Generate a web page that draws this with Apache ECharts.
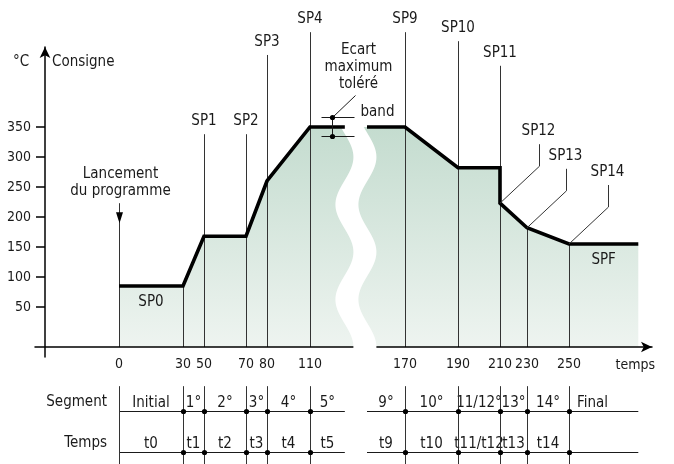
<!DOCTYPE html>
<html>
<head>
    <meta charset="utf-8" />
    <script src="https://cdn.jsdelivr.net/npm/echarts@6.0.0/dist/echarts.min.js"></script>
    <title>Consigne</title>
    <style>
        html, body { margin: 0; padding: 0; background: #fff; }
        #main { width: 674px; height: 464px; }
    </style>
</head>
<body>
    <div id="main"></div>

    <script type="text/javascript">

        // ---- values ----
        var tickTimes = [0, 30, 50, 70, 80, 110, 170, 190, 210, 230, 250];
        var yTicks = [50, 100, 150, 200, 250, 300, 350];

        // setpoint profile, time / °C ('-' = where the drawing breaks the line)
        var profileTimes = [0, 30, 50, 70, 80, 110, 132, '-', 146, 170, 190, 210, 210, 230, 250, 283];
        var profileTemps = [85, 85, 168, 168, 260, 350, 350, '-', 350, 350, 282, 282, 223, 182, 155, 155];
        var breakTimes = [132, 146];

        var spNames = ['SP0', 'SP1', 'SP2', 'SP3', 'SP4', 'SP9', 'SP10', 'SP11', 'SP12', 'SP13', 'SP14', 'SPF'];
        var spTimes = [0, 50, 70, 80, 110, 170, 190, 210, 210, 230, 250, 250];
        var spTemps = [85, 168, 168, 260, 350, 350, 282, 282, 223, 182, 155, 155];

        // tolerance band drawn on SP4
        var bandTime = 124;
        var bandTemps = [334, 366];

        // table under the axis
        var tableRows = ['Segment', 'Temps'];
        var segmentNames = ['Initial', '1°', '2°', '3°', '4°', '5°', '9°', '10°', '11/12°', '13°', '14°', 'Final'];
        var stepNames = ['t0', 't1', 't2', 't3', 't4', 't5', 't9', 't10', 't11/t12', 't13', 't14', ''];
        var cellFrom = [0, 30, 50, 70, 80, 110, 146, 170, 190, 210, 230, 250];
        var cellTo = [30, 50, 70, 80, 110, 132, 170, 190, 210, 230, 250, 283];

        // ---- drawing setup ----
        var FONT = '"DejaVu Sans Condensed", "Liberation Sans Narrow", sans-serif';
        var INK = '#1a1a1a';
        var AXIS_AT = -16.7;   // °C level where the time axis is drawn
        var lastTime = profileTimes[profileTimes.length - 1];

        // the drawing is not to scale: each tick time has its own place on the axis
        var scaleSlots = [0, 64, 85, 127, 148, 191, 286, 339, 381, 408, 450];
        function sx(t) {
            for (var i = 1; i < tickTimes.length; i++) {
                if (t <= tickTimes[i] || i === tickTimes.length - 1) {
                    var a = tickTimes[i - 1], b = tickTimes[i];
                    return scaleSlots[i - 1] + (t - a) * (scaleSlots[i] - scaleSlots[i - 1]) / (b - a);
                }
            }
        }
        function tempAt(t) {
            for (var i = 0; i < profileTimes.length; i++) {
                if (profileTimes[i] === t) return profileTemps[i];
            }
        }
        function crisp(v) { return Math.round(v - 0.5) + 0.5; }

        function txt(x, y, s, size, align, vAlign) {
            return {
                type: 'text', x: x, y: y,
                style: {
                    text: s, fill: INK, fontSize: size || 15, fontFamily: FONT,
                    align: align || 'center', verticalAlign: vAlign || 'middle', lineHeight: 17
                }
            };
        }
        function seg(x1, y1, x2, y2, w, c) {
            return { type: 'line', shape: { x1: x1, y1: y1, x2: x2, y2: y2 }, style: { stroke: c || '#333', lineWidth: w || 1 } };
        }
        function dot(x, y) {
            return { type: 'circle', shape: { cx: x, cy: y, r: 2.6 }, style: { fill: '#000' } };
        }

        var linePoints = profileTimes.map(function (t, i) {
            return t === '-' ? '-' : [sx(t), profileTemps[i]];
        });
        var areaPoints = linePoints.filter(function (p) { return p !== '-'; });

        // where each guide line stops (°C); null = stops on the profile
        var guideTop = [223, null, 338, 338, 470, 508, 508, 493, 452, null, null];
        var spPlace = ['below', 'guide', 'guide', 'guide', 'guide', 'guide', 'guide', 'guide', 'leader', 'leader', 'leader', 'below'];

        function renderGuide(params, api) {
            var i = params.dataIndex, t = tickTimes[i];
            var x = crisp(api.coord([sx(t), 0])[0]);
            var y0 = api.coord([0, AXIS_AT])[1];
            var top = guideTop[i] == null ? tempAt(t) : guideTop[i];
            var y1 = api.coord([0, top])[1];
            var kids = [seg(x, y0, x, y1, 1, '#333')];
            if (i === 0) {
                kids.push({ type: 'polygon', shape: { points: [[x - 3.5, y1 + 9], [x + 3.5, y1 + 9], [x, y1 + 20]] }, style: { fill: '#000' } });
                kids.push(txt(x + 1, y1 - 4, 'Lancement\ndu programme', 15, 'center', 'bottom'));
            }
            return { type: 'group', children: kids };
        }

        function renderSp(params, api) {
            var i = params.dataIndex, t = spTimes[i];
            var p = api.coord([sx(t), spTemps[i]]);
            if (spPlace[i] === 'guide') {
                var top = api.coord([0, guideTop[tickTimes.indexOf(t)]])[1];
                return txt(p[0], top - 13, spNames[i]);
            }
            if (spPlace[i] === 'leader') {
                var lx = crisp(p[0] + 39), ly = p[1] - 37;
                return {
                    type: 'group', children: [
                        { type: 'polyline', shape: { points: [[p[0], p[1]], [lx, ly], [lx, ly - 22]] }, style: { stroke: '#333', lineWidth: 1, fill: null } },
                        txt(lx - 1, ly - 35, spNames[i])
                    ]
                };
            }
            var next = i === 0 ? tickTimes[1] : lastTime;
            var mx = api.coord([sx((t + next) / 2), 0])[0];
            return txt(mx, p[1] + 16, spNames[i]);
        }

        function renderBand(params, api) {
            var x = crisp(api.coord([sx(bandTime), 0])[0]);
            var yHi = crisp(api.coord([0, bandTemps[1]])[1]);
            var yLo = crisp(api.coord([0, bandTemps[0]])[1]);
            return {
                type: 'group', children: [
                    seg(x - 11, yHi, x + 22, yHi, 1, INK),
                    seg(x - 11, yLo, x + 22, yLo, 1, INK),
                    seg(x, yHi, x, yLo, 1, INK),
                    seg(x, yHi, x + 23, yHi - 22, 1, INK),
                    dot(x, yHi), dot(x, yLo),
                    txt(x + 28, yHi - 5, 'band', 15, 'left'),
                    txt(x + 26, yHi - 25, 'Ecart\nmaximum\ntoléré', 15, 'center', 'bottom')
                ]
            };
        }

        function renderBreak(params, api) {
            var cx = api.coord([sx((breakTimes[0] + breakTimes[1]) / 2), 0])[0];
            var yTop = api.coord([0, tempAt(breakTimes[0])])[1] - 1;
            var yAx = api.coord([0, AXIS_AT])[1];
            var left = [], right = [];
            for (var y = yTop; y <= yAx + 3; y += 2) {
                var c = cx + 9 * Math.cos(2 * Math.PI * (yAx - y) / 95);
                left.push([c - 11.5, y]);
                right.unshift([c + 11.5, y]);
            }
            return { type: 'polygon', shape: { points: left.concat(right) }, style: { fill: '#fff' } };
        }

        function renderRow(params, api) {
            var r = params.dataIndex + 1;
            var y = crisp(api.coord([0, r])[1]);
            var x0 = api.coord([sx(0), r])[0];
            return {
                type: 'group', children: [
                    seg(x0, y, api.coord([sx(breakTimes[0]), r])[0], y, 1, INK),
                    seg(api.coord([sx(breakTimes[1]), r])[0], y, api.coord([sx(lastTime), r])[0], y, 1, INK),
                    txt(x0 - 12, y - 9, tableRows[r - 1], 15, 'right')
                ]
            };
        }

        function renderCol(params, api) {
            var i = params.dataIndex;
            var x = crisp(api.coord([sx(tickTimes[i]), 0])[0]);
            var kids = [seg(x, api.coord([0, 0.37])[1], x, api.coord([0, 2.4])[1], 1, '#333')];
            if (i > 0) {
                kids.push(dot(x, crisp(api.coord([0, 1])[1])));
                kids.push(dot(x, crisp(api.coord([0, 2])[1])));
            }
            return { type: 'group', children: kids };
        }

        function renderCell(params, api) {
            var i = params.dataIndex;
            var a = api.coord([sx(cellFrom[i]), 1])[0], b = api.coord([sx(cellTo[i]), 1])[0];
            var last = i === segmentNames.length - 1;
            var x = last ? a + 8 : (a + b) / 2;
            var y1 = api.coord([0, 1])[1], y2 = api.coord([0, 2])[1];
            return {
                type: 'group', children: [
                    txt(x, y1 - 9, segmentNames[i], 15, last ? 'left' : 'center'),
                    txt(x, y2 - 9, stepNames[i], 15, last ? 'left' : 'center')
                ]
            };
        }

        var axisLine = { color: '#000', width: 1.5 };
        var labelText = { color: INK, fontSize: 14, fontFamily: FONT };

        var myChart = echarts.init(document.getElementById('main'));

        myChart.setOption({
            animation: false,
            title: {
                text: '°C', left: 13, top: 55, padding: 0,
                textStyle: { color: INK, fontSize: 15, fontWeight: 'normal', fontFamily: FONT }
            },
            grid: [
                { left: 35, right: 22, top: 47, bottom: 107, outerBoundsMode: 'none' },
                { left: 35, right: 22, top: 371, bottom: 0, outerBoundsMode: 'none' }
            ],
            xAxis: [{
                gridIndex: 0, type: 'value', min: -84, max: 533, offset: -10, z: 3,
                axisLine: { onZero: false, lineStyle: axisLine, symbol: ['none', 'arrow'], symbolSize: [8, 11] },
                axisTick: { show: false },
                splitLine: { show: false },
                axisLabel: {
                    customValues: tickTimes.map(sx), margin: 10, color: INK, fontSize: 14, fontFamily: FONT,
                    formatter: function (v) {
                        var best = 0;
                        for (var i = 1; i < tickTimes.length; i++) {
                            if (Math.abs(sx(tickTimes[i]) - v) < Math.abs(sx(tickTimes[best]) - v)) best = i;
                        }
                        return String(tickTimes[best]);
                    }
                },
                name: 'temps', nameLocation: 'end', nameGap: 3,
                nameTextStyle: { color: INK, fontSize: 14, fontFamily: FONT, align: 'right', verticalAlign: 'top', padding: [11, 0, 0, 0] }
            }, {
                gridIndex: 1, type: 'value', min: -84, max: 533, show: false
            }],
            yAxis: [{
                gridIndex: 0, type: 'value', min: -33.3, max: 483.3, offset: -10,
                axisLine: { show: true, onZero: false, lineStyle: axisLine, symbol: ['none', 'arrow'], symbolSize: [8, 11] },
                axisTick: { show: true, customValues: yTicks, length: 9, lineStyle: axisLine },
                axisLabel: { customValues: yTicks, margin: 14, color: labelText.color, fontSize: 14, fontFamily: FONT },
                splitLine: { show: false },
                name: 'Consigne', nameLocation: 'end', nameGap: -8,
                nameTextStyle: { color: INK, fontSize: 15, fontFamily: FONT, align: 'left', verticalAlign: 'top', padding: [0, 0, 0, 7] }
            }, {
                gridIndex: 1, type: 'value', inverse: true, min: 0, max: 2.27, show: false
            }],
            series: [{
                type: 'line', data: areaPoints, symbol: 'none', silent: true, z: 1,
                lineStyle: { width: 0, opacity: 0 },
                areaStyle: {
                    origin: AXIS_AT, opacity: 1,
                    color: new echarts.graphic.LinearGradient(0, 0, 0, 1, [
                        { offset: 0, color: '#c4dccf' },
                        { offset: 1, color: '#eef4f0' }
                    ])
                }
            }, {
                type: 'custom', renderItem: renderGuide, z: 2, silent: true,
                data: tickTimes.map(function (t) { return [sx(t), 0]; })
            }, {
                type: 'custom', renderItem: renderBreak, z: 4, silent: true,
                data: [[sx(breakTimes[0]), 0]]
            }, {
                type: 'line', data: linePoints, symbol: 'none', silent: true, z: 5,
                lineStyle: { color: '#000', width: 3.6, join: 'miter', cap: 'butt' }
            }, {
                type: 'custom', renderItem: renderSp, z: 6, silent: true,
                data: spTimes.map(function (t, i) { return [sx(t), spTemps[i]]; })
            }, {
                type: 'custom', renderItem: renderBand, z: 7, silent: true,
                data: [[sx(bandTime), bandTemps[1]]]
            }, {
                type: 'custom', renderItem: renderRow, xAxisIndex: 1, yAxisIndex: 1, silent: true,
                data: tableRows.map(function (r, i) { return [0, i + 1]; })
            }, {
                type: 'custom', renderItem: renderCol, xAxisIndex: 1, yAxisIndex: 1, silent: true, z: 3,
                data: tickTimes.map(function (t) { return [sx(t), 1]; })
            }, {
                type: 'custom', renderItem: renderCell, xAxisIndex: 1, yAxisIndex: 1, silent: true,
                data: segmentNames.map(function (s, i) { return [sx(cellFrom[i]), 1]; })
            }]
        });

    </script>
</body>
</html>
